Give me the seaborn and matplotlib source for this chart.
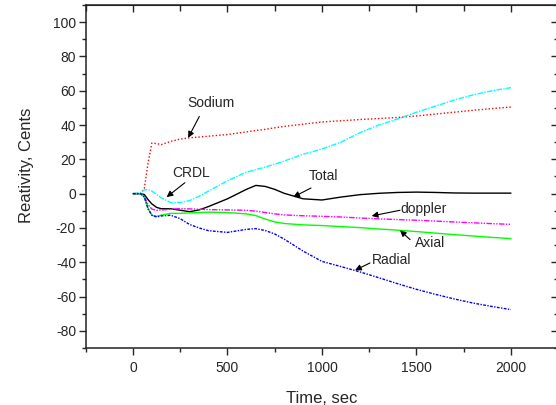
import numpy as np
import pandas as pd
import matplotlib
matplotlib.use("Agg")
import matplotlib.pyplot as plt
import seaborn as sns

sns.set_style("white")
plt.rcParams['font.family'] = ['Liberation Sans', 'DejaVu Sans']
plt.rcParams['axes.unicode_minus'] = False

# time grid (sec) shared by all the reactivity curves
time_s = [0, 40, 60, 80, 100, 125, 150, 200, 250, 300, 350, 400, 500, 600, 650,
          700, 750, 800, 900, 1000, 1100, 1200, 1300, 1400, 1500, 1600, 1700,
          1800, 1900, 2000]

sodium = [0, 0, 3, 18, 29.5, 29.2, 28.6, 30.5, 31.8, 32.6, 33.0, 33.5, 34.5, 36.0, 36.8,
          37.5, 38.4, 39.2, 40.5, 41.8, 42.5, 43.2, 43.8, 44.4, 45.3, 46.4, 47.5,
          48.6, 49.6, 50.5]
crdl = [0, 0.5, 2.2, 2.4, 1.5, -0.5, -2.5, -5.2, -5.2, -4.0, -1.5, 1.5, 7.5, 12.5, 14.0,
        15.5, 17.2, 19.0, 23.0, 26.0, 30.0, 35.5, 40.0, 43.5, 47.5, 51.0, 54.6,
        57.6, 60.0, 61.8]
total = [0, 0, -0.5, -3.5, -6.0, -8.0, -8.8, -8.8, -9.7, -10.5, -9.5, -7.5, -3.0, 2.5, 4.8,
         4.2, 2.5, 0.2, -3.0, -3.7, -2.0, -0.6, 0.2, 0.7, 0.9, 0.7, 0.4,
         0.3, 0.3, 0.3]
doppler = [0, 0, -1.5, -6.5, -9.0, -9.7, -9.5, -9.1, -8.7, -8.9, -9.1, -9.3, -9.5, -9.7, -10.2,
           -11.0, -11.8, -12.4, -12.9, -13.2, -13.6, -14.2, -14.7, -15.1, -15.5, -16.0, -16.5,
           -17.0, -17.5, -17.9]
axial = [0, 0, -2.0, -8.5, -12.6, -13.2, -12.5, -11.5, -11.5, -11.2, -11.0, -10.8, -11.0, -11.8, -12.8,
         -14.8, -16.5, -17.4, -18.2, -18.6, -19.2, -19.8, -20.6, -21.3, -22.1, -23.0, -23.9,
         -24.7, -25.5, -26.2]
radial = [0, 0, -2.0, -9.0, -12.6, -13.6, -13.0, -12.6, -14.6, -18.0, -20.0, -21.6, -22.6, -20.8, -20.4,
          -21.5, -23.5, -26.5, -33.5, -39.5, -42.5, -45.6, -49.0, -52.5, -55.8, -58.7, -61.4,
          -63.8, -65.8, -67.6]

series = [
    ("Sodium", sodium, "#FF0000", (0, (1, 1.5))),
    ("CRDL", crdl, "#00FFFF", (0, (4, 1, 1, 1))),
    ("Total", total, "#000000", "-"),
    ("doppler", doppler, "#FF00FF", (0, (4, 1, 1, 1, 1, 1))),
    ("Axial", axial, "#00FF00", "-"),
    ("Radial", radial, "#0000FF", (0, (2, 1, 1, 1))),
]

# label text position, arrow tail, arrow tip (data coords)
labels = {
    "Sodium": ((411, 53), (351, 45), (292, 32.6)),
    "CRDL": ((305, 12), (275, 6.4), (178, -2)),
    "Total": ((1007, 10.1), (942, 3.3), (848, -2)),
    "doppler": ((1540, -8.7), (1413, -9.7), (1263, -13)),
    "Axial": ((1571, -28.8), (1466, -26.8), (1413, -21.4)),
    "Radial": ((1368, -38.5), (1254, -40.4), (1175, -44.7)),
}

fig = plt.figure(figsize=(5.56, 4.05), dpi=100)
ax = fig.add_axes([0.1542, 0.1407, 0.8498, 0.847])

for name, vals, color, ls in series:
    df = pd.DataFrame({"t": time_s, "r": vals})
    sns.lineplot(data=df, x="t", y="r", ax=ax, color=color, linestyle=ls, lw=1.0)

for name, (txt, tail, tip) in labels.items():
    ax.text(txt[0], txt[1], name, fontsize=10, ha="center", va="center")
    ax.annotate("", xy=tip, xytext=tail,
                arrowprops=dict(arrowstyle="-|>", color="black", lw=0.8,
                                mutation_scale=9, shrinkA=0, shrinkB=0))

ax.set_xlim(-250, 2250)
ax.set_ylim(-90, 110)
ax.set_xticks([0, 500, 1000, 1500, 2000])
ax.set_xticks(np.arange(-250, 2251, 250), minor=True)
ax.set_yticks(np.arange(-80, 101, 20))
ax.set_yticks(np.arange(-90, 111, 10), minor=True)

for sp in ax.spines.values():
    sp.set_linewidth(1.1)
    sp.set_color("#222222")

ax.tick_params(axis="x", which="both", direction="out", bottom=True, top=False, labelsize=10, pad=4)
ax.tick_params(axis="y", which="both", direction="out", left=True, right=False, labelsize=10, pad=2)
ax.tick_params(which="major", length=5, width=1.0)
ax.tick_params(which="minor", length=3, width=1.0)

# inward ticks on the top and right frame
top = ax.secondary_xaxis("top")
top.set_xticks([0, 500, 1000, 1500, 2000])
top.set_xticks(np.arange(-250, 2251, 250), minor=True)
top.tick_params(which="both", direction="in", labeltop=False)
top.tick_params(which="major", length=5, width=1.0)
top.tick_params(which="minor", length=4, width=1.0)
right = ax.secondary_yaxis("right")
right.set_yticks(np.arange(-80, 101, 20))
right.set_yticks(np.arange(-90, 111, 10), minor=True)
right.tick_params(which="both", direction="in", labelright=False)
right.tick_params(which="major", length=5, width=1.0)
right.tick_params(which="minor", length=3, width=1.0)

ax.set_xlabel("Time, sec", fontsize=12)
ax.set_ylabel("Reativity, Cents", fontsize=12)
ax.xaxis.set_label_coords(0.5, -0.125)
ax.yaxis.set_label_coords(-0.11, 0.534)

fig.savefig("out.png", dpi=100)
